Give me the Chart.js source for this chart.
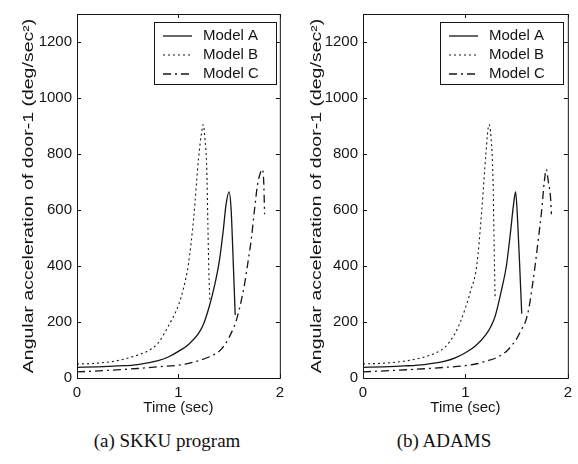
<!DOCTYPE html>
<html>
<head>
<meta charset="utf-8">
<script src="https://cdn.jsdelivr.net/npm/chart.js@4.4.1/dist/chart.umd.min.js"></script>
<style>
  html, body { margin: 0; padding: 0; background: #fff; }
  #wrap { position: relative; width: 578px; height: 464px; overflow: hidden; }
  canvas { position: absolute; top: 0; }
  #c1 { left: 0; }
  #c2 { left: 290px; }
  .cap {
    position: absolute; top: 430px; line-height: 22px;
    font-family: "Liberation Serif", "Times New Roman", serif;
    font-size: 19px; color: #111; white-space: nowrap;
    transform: translateX(-50%);
  }
</style>
</head>
<body>
<div id="wrap">
  <canvas id="c1" width="290" height="420"></canvas>
  <canvas id="c2" width="288" height="420"></canvas>
  <div class="cap" style="left:167px">(a) SKKU program</div>
  <div class="cap" style="left:444px">(b) ADAMS</div>
</div>
<script>
// --- data ---
const xTicks = [0, 1, 2];
const yTicks = [0, 200, 400, 600, 800, 1000, 1200];
const seriesNames = ['Model A', 'Model B', 'Model C'];

// (a) SKKU program
const skkuTimeA = [0, 0.2, 0.4, 0.6, 0.8, 0.9, 1.0, 1.1, 1.2, 1.25, 1.3, 1.35, 1.4, 1.44, 1.47, 1.5, 1.52, 1.54, 1.56];
const skkuA     = [38, 40, 43, 48, 62, 75, 95, 120, 160, 195, 250, 320, 410, 520, 620, 665, 600, 420, 225];
const skkuTimeB = [0, 0.2, 0.4, 0.6, 0.7, 0.8, 0.9, 1.0, 1.05, 1.1, 1.15, 1.2, 1.23, 1.245, 1.26, 1.28, 1.29, 1.3, 1.31];
const skkuB     = [50, 53, 62, 82, 97, 125, 185, 260, 320, 410, 570, 790, 880, 905, 860, 740, 560, 380, 280];
const skkuTimeC = [0, 0.3, 0.6, 0.8, 1.0, 1.1, 1.2, 1.3, 1.4, 1.45, 1.5, 1.55, 1.57, 1.6, 1.65, 1.68, 1.72, 1.75, 1.78, 1.81, 1.825, 1.84, 1.85];
const skkuC     = [22, 27, 34, 40, 46, 52, 62, 75, 95, 115, 145, 185, 205, 245, 330, 400, 500, 600, 690, 735, 745, 710, 585];

// (b) ADAMS
const adamsTimeA = [0, 0.2, 0.4, 0.6, 0.8, 0.9, 1.0, 1.1, 1.2, 1.25, 1.29, 1.35, 1.4, 1.44, 1.47, 1.49, 1.51, 1.53, 1.55];
const adamsA     = [38, 40, 43, 48, 60, 72, 90, 115, 155, 185, 220, 310, 400, 520, 620, 665, 560, 400, 230];
const adamsTimeB = [0, 0.2, 0.4, 0.6, 0.7, 0.8, 0.9, 0.95, 1.0, 1.05, 1.11, 1.16, 1.2, 1.23, 1.25, 1.27, 1.28, 1.29];
const adamsB     = [50, 53, 60, 75, 88, 110, 160, 200, 250, 310, 400, 600, 800, 905, 860, 700, 480, 280];
const adamsTimeC = [0, 0.3, 0.6, 0.8, 1.0, 1.1, 1.2, 1.3, 1.4, 1.45, 1.5, 1.55, 1.585, 1.62, 1.65, 1.68, 1.71, 1.745, 1.77, 1.79, 1.81, 1.83, 1.84];
const adamsC     = [22, 27, 33, 38, 44, 50, 60, 72, 95, 115, 140, 175, 200, 250, 320, 400, 490, 600, 700, 745, 700, 650, 585];

const yTitle = 'Angular acceleration of door-1 (deg/sec\u00B2)';
const xTitle = 'Time (sec)';

const INK = '#151515';
const FONT = '"Liberation Sans", Arial, sans-serif';
const dashes = [[], [2, 3], [8, 4, 2, 4]];

const toPoints = (ts, vs) => ts.map((t, i) => ({ x: t, y: vs[i] }));

// box, inward ticks, stretched y title and the boxed legend (MATLAB look)
const frame = {
  id: 'frame',
  afterDraw(chart, args, opts) {
    const { ctx, chartArea: a, scales: { x, y } } = chart;
    ctx.save();
    ctx.strokeStyle = INK;
    ctx.lineWidth = 1;
    ctx.strokeRect(a.left + 0.5, a.top + 0.5, a.right - a.left, a.bottom - a.top);

    ctx.beginPath();
    x.ticks.forEach(t => {
      const px = Math.round(x.getPixelForValue(t.value)) + 0.5;
      ctx.moveTo(px, a.bottom); ctx.lineTo(px, a.bottom - 4);
      ctx.moveTo(px, a.top); ctx.lineTo(px, a.top + 4);
    });
    y.ticks.forEach(t => {
      const py = Math.round(y.getPixelForValue(t.value)) + 0.5;
      ctx.moveTo(a.left, py); ctx.lineTo(a.left + 4, py);
      ctx.moveTo(a.right, py); ctx.lineTo(a.right - 4, py);
    });
    ctx.stroke();

    // y title (scan is stretched vertically)
    ctx.save();
    ctx.translate(opts.titleX, (a.top + a.bottom) / 2);
    ctx.rotate(-Math.PI / 2);
    ctx.scale(1.3, 1);
    ctx.fillStyle = INK;
    ctx.font = '15px ' + FONT;
    ctx.textAlign = 'center';
    ctx.textBaseline = 'middle';
    ctx.fillText(yTitle, 0, 0);
    ctx.restore();

    // legend
    const L = opts.legendLeft, R = opts.legendRight, T = a.top + 8, B = a.top + 70;
    ctx.fillStyle = '#fff';
    ctx.fillRect(L, T, R - L, B - T);
    ctx.strokeRect(L + 0.5, T + 0.5, R - L, B - T);
    ctx.font = '15px ' + FONT;
    ctx.textAlign = 'left';
    ctx.textBaseline = 'middle';
    chart.data.datasets.forEach((ds, i) => {
      const ly = T + 14 + i * 19;
      ctx.setLineDash(ds.borderDash || []);
      ctx.lineWidth = ds.borderWidth;
      ctx.beginPath();
      ctx.moveTo(L + 9, ly); ctx.lineTo(L + 38, ly);
      ctx.stroke();
      ctx.setLineDash([]);
      ctx.fillStyle = INK;
      ctx.fillText(ds.label, L + 49, ly);
    });
    ctx.restore();
  }
};

function makeChart(id, series, pad, yWidth, plug) {
  new Chart(document.getElementById(id), {
    type: 'line',
    data: {
      datasets: series.map((s, i) => ({
        label: seriesNames[i],
        data: toPoints(s[0], s[1]),
        borderColor: INK,
        borderWidth: i === 1 ? 1.1 : 1.3,
        borderDash: dashes[i],
        pointRadius: 0,
        fill: false,
        cubicInterpolationMode: 'monotone'
      }))
    },
    options: {
      responsive: false,
      animation: false,
      devicePixelRatio: 1,
      layout: { padding: { top: 10, right: pad, left: 0, bottom: 0 } },
      plugins: { legend: { display: false }, tooltip: { enabled: false }, frame: plug },
      scales: {
        x: {
          type: 'linear', min: 0, max: 2,
          grid: { display: false, drawTicks: false },
          border: { display: false },
          afterBuildTicks: sc => { sc.ticks = xTicks.map(v => ({ value: v })); },
          afterFit: sc => { sc.height = 42; },
          ticks: { color: INK, font: { family: FONT, size: 15 }, padding: 6, maxRotation: 0, callback: v => String(v) },
          title: { display: true, text: xTitle, color: INK, font: { family: FONT, size: 15 }, padding: { top: 0, bottom: 3 } }
        },
        y: {
          type: 'linear', min: 0, max: 1300,
          grid: { display: false, drawTicks: false },
          border: { display: false },
          afterBuildTicks: sc => { sc.ticks = yTicks.map(v => ({ value: v })); },
          afterFit: sc => { sc.width = yWidth; },
          ticks: { color: INK, font: { family: FONT, size: 15 }, padding: 5, callback: v => String(v) }
        }
      }
    },
    plugins: [frame]
  });
}

makeChart('c1', [[skkuTimeA, skkuA], [skkuTimeB, skkuB], [skkuTimeC, skkuC]], 4, 77,
  { titleX: 29, legendLeft: 154, legendRight: 276 });
makeChart('c2', [[adamsTimeA, adamsA], [adamsTimeB, adamsB], [adamsTimeC, adamsC]], 8, 73,
  { titleX: 27, legendLeft: 150, legendRight: 273 });
</script>
</body>
</html>
